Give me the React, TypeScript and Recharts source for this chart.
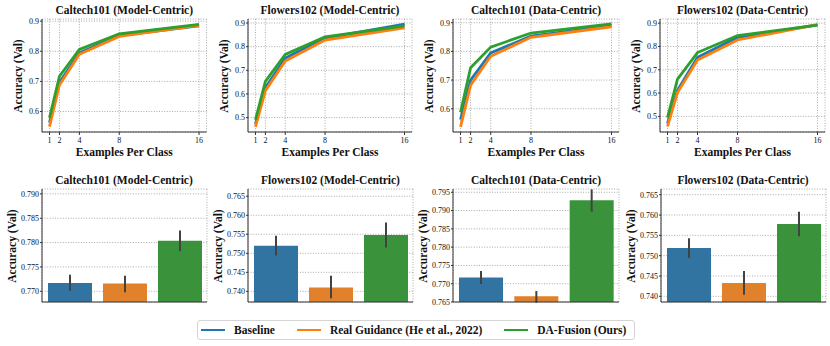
import React from 'react';
import { LineChart, Line, BarChart, Bar, Cell, XAxis, YAxis, CartesianGrid, ErrorBar } from 'recharts';

// ---------- data ----------
const shots = [1, 2, 4, 8, 16];
const seriesNames = ['Baseline', 'Real Guidance (He et al., 2022)', 'DA-Fusion (Ours)'];
const lineColors = ['#1f77b4', '#ff7f0e', '#2ca02c'];
const barColors = ['#3274a1', '#e1812c', '#3a923a'];

const caltechModelBaseline = [0.563, 0.697, 0.795, 0.852, 0.884];
const caltechModelRealGuidance = [0.550, 0.688, 0.790, 0.849, 0.886];
const caltechModelDAFusion = [0.579, 0.717, 0.806, 0.858, 0.889];

const flowersModelBaseline = [0.472, 0.627, 0.752, 0.836, 0.895];
const flowersModelRealGuidance = [0.461, 0.614, 0.739, 0.828, 0.880];
const flowersModelDAFusion = [0.490, 0.653, 0.767, 0.841, 0.888];

const caltechDataBaseline = [0.562, 0.700, 0.795, 0.853, 0.890];
const caltechDataRealGuidance = [0.537, 0.682, 0.783, 0.849, 0.886];
const caltechDataDAFusion = [0.588, 0.743, 0.815, 0.864, 0.896];

const flowersDataBaseline = [0.470, 0.612, 0.754, 0.839, 0.893];
const flowersDataRealGuidance = [0.457, 0.602, 0.742, 0.828, 0.894];
const flowersDataDAFusion = [0.495, 0.660, 0.774, 0.847, 0.892];

// bar panels: mean, lower and upper bound of error bars (Baseline, Real Guidance, DA-Fusion)
const caltechModelMean = [0.7717, 0.7716, 0.7804];
const caltechModelLow = [0.7701, 0.7698, 0.7782];
const caltechModelHigh = [0.7734, 0.7732, 0.7825];

const flowersModelMean = [0.7520, 0.7410, 0.7548];
const flowersModelLow = [0.7494, 0.7382, 0.7515];
const flowersModelHigh = [0.7546, 0.7441, 0.7581];

const caltechDataMean = [0.7717, 0.7666, 0.7928];
const caltechDataLow = [0.7699, 0.7648, 0.7897];
const caltechDataHigh = [0.7735, 0.7680, 0.7958];

const flowersDataMean = [0.7519, 0.7433, 0.7578];
const flowersDataLow = [0.7494, 0.7404, 0.7548];
const flowersDataHigh = [0.7543, 0.7462, 0.7608];

const lineTicksA = [0.6, 0.7, 0.8, 0.9];
const lineTicksB = [0.5, 0.6, 0.7, 0.8, 0.9];
const barTicksCM = [0.770, 0.775, 0.780, 0.785, 0.790];
const barTicksFM = [0.740, 0.745, 0.750, 0.755, 0.760, 0.765];
const barTicksCD = [0.765, 0.770, 0.775, 0.780, 0.785, 0.790, 0.795];
const barTicksFD = [0.740, 0.745, 0.750, 0.755, 0.760, 0.765];

// ---------- builders ----------
const buildLine = (b: number[], r: number[], d: number[]) =>
  shots.map((s, i) => ({ x: s, b: b[i], r: r[i], d: d[i] }));

const buildBar = (mean: number[], lo: number[], hi: number[]) =>
  mean.map((v, i) => ({ x: i, v, err: [v - lo[i], hi[i] - v] }));

// ---------- styling ----------
const FONT = '"Liberation Serif", "Times New Roman", serif';
const YW = 40;
const MT = 6;
const MR = 6;
const XH = 30;
const GRID = '#a9a9a9';
const AXIS = '#333333';

type Rect = { x: number; y: number; w: number; h: number };

const tickStyle = { fontFamily: FONT, fontSize: 8, fill: '#111' };

function Texts({ rect, title, yOff, xLabel }: { rect: Rect; title: string; yOff: number; xLabel?: boolean }) {
  const cx = rect.x + rect.w / 2;
  const cy = rect.y + rect.h / 2;
  const bold: React.CSSProperties = {
    position: 'absolute',
    fontFamily: FONT,
    fontWeight: 'bold',
    fontSize: 11.5,
    color: '#111',
    textAlign: 'center',
    height: 16,
    lineHeight: '16px',
    whiteSpace: 'nowrap',
  };
  return (
    <>
      <div style={{ ...bold, left: cx - 120, width: 240, top: rect.y - 17.5 }}>{title}</div>
      <div
        style={{
          ...bold,
          left: rect.x - yOff - 60,
          width: 120,
          top: cy - 8,
          transform: 'rotate(-90deg)',
        }}
      >
        Accuracy (Val)
      </div>
      {xLabel && (
        <div style={{ ...bold, left: cx - 100, width: 200, top: rect.y + rect.h + 12 }}>Examples Per Class</div>
      )}
    </>
  );
}

function LinePanel({ rect, title, data, yDomain, yTicks }: { rect: Rect; title: string; data: any[]; yDomain: number[]; yTicks: number[] }) {
  return (
    <>
      <div style={{ position: 'absolute', left: rect.x - YW, top: rect.y - MT }}>
        <LineChart width={YW + rect.w + MR} height={MT + rect.h + XH} data={data} margin={{ top: MT, right: MR, bottom: 0, left: 0 }}>
          <CartesianGrid stroke={GRID} strokeDasharray="1 1.6" strokeWidth={1} />
          <XAxis
            type="number"
            dataKey="x"
            domain={[0.25, 16.75]}
            ticks={shots}
            allowDataOverflow
            height={XH}
            tick={tickStyle}
            tickSize={3}
            tickMargin={2}
            stroke={AXIS}
            interval={0}
          />
          <YAxis
            type="number"
            domain={yDomain}
            ticks={yTicks}
            allowDataOverflow
            width={YW}
            tick={tickStyle}
            tickSize={2}
            tickMargin={1}
            stroke={AXIS}
            interval={0}
            tickFormatter={(v: number) => v.toFixed(1)}
          />
          <Line type="linear" dataKey="b" name={seriesNames[0]} stroke={lineColors[0]} strokeWidth={2.8} dot={false} isAnimationActive={false} />
          <Line type="linear" dataKey="r" name={seriesNames[1]} stroke={lineColors[1]} strokeWidth={2.8} dot={false} isAnimationActive={false} />
          <Line type="linear" dataKey="d" name={seriesNames[2]} stroke={lineColors[2]} strokeWidth={2.8} dot={false} isAnimationActive={false} />
        </LineChart>
      </div>
      <Texts rect={rect} title={title} yOff={24} xLabel />
    </>
  );
}

function BarPanel({ rect, title, data, yDomain, yTicks }: { rect: Rect; title: string; data: any[]; yDomain: number[]; yTicks: number[] }) {
  return (
    <>
      <div style={{ position: 'absolute', left: rect.x - YW, top: rect.y - MT }}>
        <BarChart width={YW + rect.w + MR} height={MT + rect.h + XH} data={data} margin={{ top: MT, right: MR, bottom: 0, left: 0 }}>
          <CartesianGrid stroke={GRID} strokeDasharray="1 1.6" strokeWidth={1} />
          <XAxis
            type="number"
            dataKey="x"
            domain={[-0.5, 2.5]}
            ticks={[0, 1, 2]}
            allowDataOverflow
            height={XH}
            tick={false}
            tickSize={3}
            stroke={AXIS}
            interval={0}
          />
          <YAxis
            type="number"
            domain={yDomain}
            ticks={yTicks}
            allowDataOverflow
            width={YW}
            tick={tickStyle}
            tickSize={2}
            tickMargin={1}
            stroke={AXIS}
            interval={0}
            tickFormatter={(v: number) => v.toFixed(3)}
          />
          <Bar dataKey="v" barSize={44} isAnimationActive={false}>
            {data.map((_, i) => (
              <Cell key={i} fill={barColors[i]} />
            ))}
            <ErrorBar dataKey="err" direction="y" width={0} stroke="#424242" strokeWidth={2} />
          </Bar>
        </BarChart>
      </div>
      <Texts rect={rect} title={title} yOff={30} />
    </>
  );
}

function LegendBox() {
  return (
    <div
      style={{
        position: 'absolute',
        left: 197,
        top: 320,
        width: 433,
        height: 18,
        border: '1px solid #d4d4d4',
        borderRadius: 3,
        display: 'flex',
        alignItems: 'center',
        paddingLeft: 3,
        fontFamily: FONT,
        fontWeight: 'bold',
        fontSize: 11.5,
        color: '#111',
      }}
    >
      {seriesNames.map((n, i) => (
        <div key={n} style={{ display: 'flex', alignItems: 'center', marginRight: 22, whiteSpace: 'nowrap' }}>
          <div style={{ width: 24, height: 2.6, background: lineColors[i], marginRight: 9 }} />
          <span>{n}</span>
        </div>
      ))}
    </div>
  );
}

export default function App() {
  const top = 19;
  const th = 113;
  const bt = 189.3;
  const bh = 113;
  return (
    <div style={{ position: 'absolute', left: 0, top: 0, width: 830, height: 346, background: '#fff', overflow: 'hidden' }}>
      <LinePanel
        rect={{ x: 42, y: top, w: 164.5, h: th }}
        title="Caltech101 (Model-Centric)"
        data={buildLine(caltechModelBaseline, caltechModelRealGuidance, caltechModelDAFusion)}
        yDomain={[0.532, 0.907]}
        yTicks={lineTicksA}
      />
      <LinePanel
        rect={{ x: 248, y: top, w: 164, h: th }}
        title="Flowers102 (Model-Centric)"
        data={buildLine(flowersModelBaseline, flowersModelRealGuidance, flowersModelDAFusion)}
        yDomain={[0.439, 0.917]}
        yTicks={lineTicksB}
      />
      <LinePanel
        rect={{ x: 453, y: top, w: 166, h: th }}
        title="Caltech101 (Data-Centric)"
        data={buildLine(caltechDataBaseline, caltechDataRealGuidance, caltechDataDAFusion)}
        yDomain={[0.519, 0.913]}
        yTicks={lineTicksA}
      />
      <LinePanel
        rect={{ x: 660, y: top, w: 165, h: th }}
        title="Flowers102 (Data-Centric)"
        data={buildLine(flowersDataBaseline, flowersDataRealGuidance, flowersDataDAFusion)}
        yDomain={[0.433, 0.918]}
        yTicks={lineTicksB}
      />

      <BarPanel
        rect={{ x: 41.5, y: bt, w: 165, h: bh }}
        title="Caltech101 (Model-Centric)"
        data={buildBar(caltechModelMean, caltechModelLow, caltechModelHigh)}
        yDomain={[0.7678, 0.791]}
        yTicks={barTicksCM}
      />
      <BarPanel
        rect={{ x: 248, y: bt, w: 165, h: bh }}
        title="Flowers102 (Model-Centric)"
        data={buildBar(flowersModelMean, flowersModelLow, flowersModelHigh)}
        yDomain={[0.7372, 0.7669]}
        yTicks={barTicksFM}
      />
      <BarPanel
        rect={{ x: 453, y: bt, w: 166, h: bh }}
        title="Caltech101 (Data-Centric)"
        data={buildBar(caltechDataMean, caltechDataLow, caltechDataHigh)}
        yDomain={[0.765, 0.7959]}
        yTicks={barTicksCD}
      />
      <BarPanel
        rect={{ x: 660.5, y: bt, w: 165, h: bh }}
        title="Flowers102 (Data-Centric)"
        data={buildBar(flowersDataMean, flowersDataLow, flowersDataHigh)}
        yDomain={[0.7386, 0.7664]}
        yTicks={barTicksFD}
      />
      <LegendBox />
    </div>
  );
}
